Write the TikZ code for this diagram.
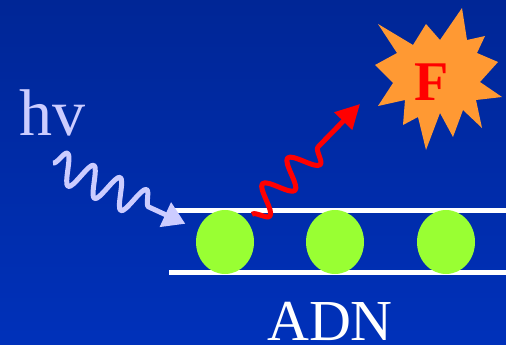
\documentclass[tikz,border=0pt]{standalone}
\usepackage{fontspec}
\setmainfont{Liberation Serif}
\usepackage{tikz}
\usetikzlibrary{shapes.geometric, arrows.meta, decorations.pathmorphing}

\definecolor{bgtop}{RGB}{0,38,150}
\definecolor{bgbot}{RGB}{0,49,186}
\definecolor{lavender}{RGB}{204,204,255}
\definecolor{basegreen}{RGB}{153,255,51}
\definecolor{flash}{RGB}{255,153,51}

\tikzset{
  rail/.style={white, line width=5pt},
  base/.style={ellipse, fill=basegreen, minimum width=58pt, minimum height=64pt, inner sep=0pt},
  photon/.style={lavender, line width=5pt, line join=round, decorate,
    decoration={snake, amplitude=15pt, segment length=29pt, post length=46pt},
    -{Triangle[width=26pt,length=22pt]}, shorten >=14pt},
  emission/.style={red, line width=5pt, line join=round, decorate,
    decoration={snake, amplitude=14pt, segment length=36pt, mirror, pre=moveto, pre length=8pt, post length=44pt},
    -{Triangle[width=24pt,length=24pt]}},
}

\begin{document}
\begin{tikzpicture}[x=1pt, y=-1pt]
    \useasboundingbox (0,0) rectangle (506,345);
    \shade[top color=bgtop, bottom color=bgbot] (0,0) rectangle (506,345);

    % the two strands and the bases between them
    \draw[rail] (175,210) -- (506,210);
    \draw[rail] (169,272) -- (506,272);
    \node[base] (base1) at (225,242) {};
    \node[base] (base2) at (335,242) {};
    \node[base] (base3) at (446,242) {};

    % fluorophore
    \fill[flash] (378,24) -- (413,45) -- (426,24) -- (440,40) -- (462,8) -- (467,40)
        -- (485,36) -- (477,53) -- (498,62) -- (480,82) -- (502,97) -- (476,100)
        -- (482,128) -- (463,110) -- (453,137) -- (440,113) -- (426,150) -- (418,117)
        -- (403,125) -- (405,100) -- (378,106) -- (393,83) -- (375,65) -- (397,53) -- cycle;
    \node[anchor=base, inner sep=0pt, text=red, font=\bfseries\fontsize{56}{56}\selectfont] (fluo) at (432,100) {F};

    \node[anchor=base west, inner sep=0pt, text=lavender, font=\fontsize{66}{66}\selectfont] (hv) at (19,135) {hv};
    \node[anchor=base west, inner sep=0pt, text=white, font=\fontsize{58}{58}\selectfont] (adn) at (267,340) {ADN};

    \coordinate (src) at (53,163);
    \coordinate (hit) at (360,104);
    \draw[photon] (src) -- (base1);
    \draw[emission] (base1) -- (hit);
\end{tikzpicture}
\end{document}
